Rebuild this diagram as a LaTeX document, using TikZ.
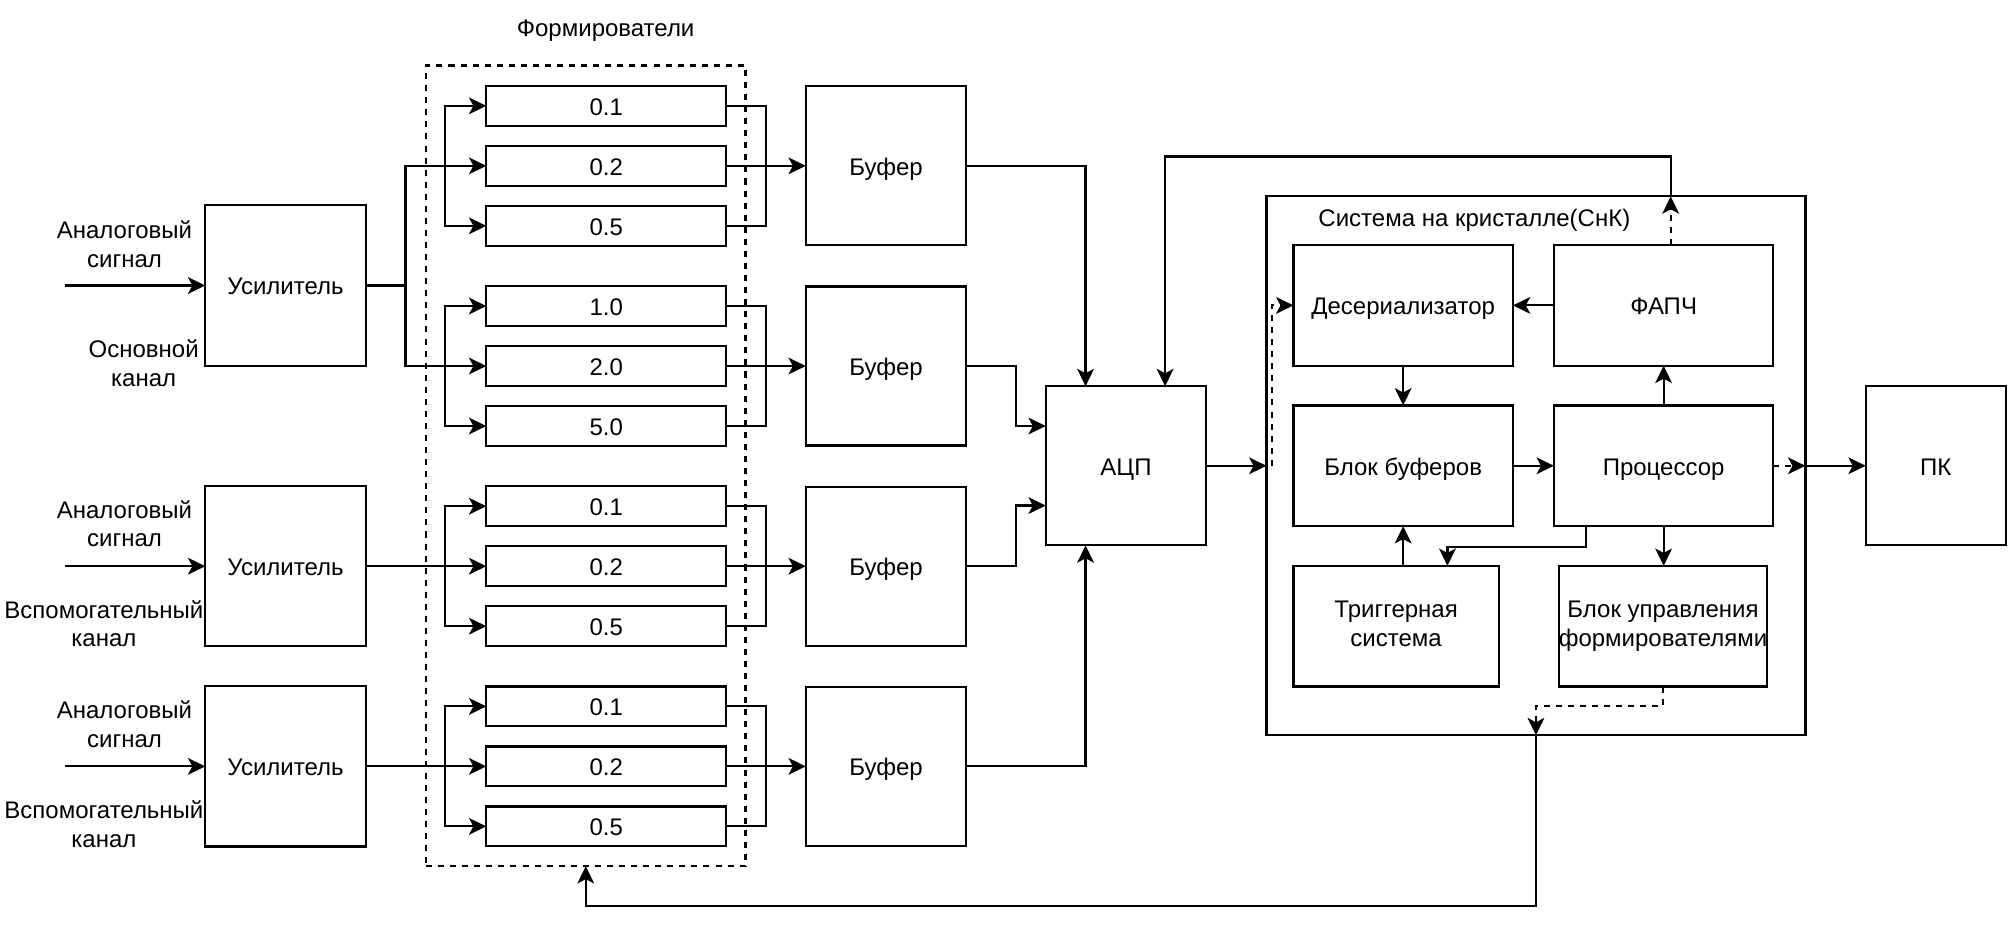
\documentclass[tikz,border=0pt]{standalone}
\usepackage{fontspec}
\setmainfont{Liberation Sans}
\usetikzlibrary{arrows.meta}
\newcommand\mystrut{\rule[-0.215em]{0pt}{1.2em}}
\begin{document}
\begin{tikzpicture}[x=1pt,y=-1pt,line width=1.7pt,
  every node/.style={font=\fontsize{18.7}{22.44}\selectfont, inner sep=0pt, outer sep=0pt, execute at begin node=\mystrut},
  lbl/.style={align=center},
  blk/.style={draw, minimum width=125pt, minimum height=124pt},
  shp/.style={draw, minimum width=187pt, minimum height=31pt},
  inr/.style={draw, minimum width=171pt, minimum height=94pt, align=center},
  arr/.style={-{Stealth[length=13.5pt,width=13pt,inset=3.4pt]}},
  dsh/.style={dash pattern=on 4.7pt off 4.7pt}]
\useasboundingbox (0,0) rectangle (1568,725);

% title and dashed group
\node[lbl] (title) at (472,21) {Формирователи};
\node[draw, dsh, minimum width=249pt, minimum height=624pt] (shapers) at (456.5,363) {};

% amplifiers
\node[blk, minimum height=125pt] (amp1) at (222.5,222.5) {Усилитель};
\node[blk, minimum height=125pt] (amp2) at (222.5,441.25) {Усилитель};
\node[blk, minimum height=125pt] (amp3) at (222.5,597.25) {Усилитель};

\coordinate (in1) at (51,222.5);
\coordinate (in2) at (51,441.25);
\coordinate (in3) at (51,597.25);
\draw[arr] (in1) -- (amp1.west);
\draw[arr] (in2) -- (amp2.west);
\draw[arr] (in3) -- (amp3.west);

\node[lbl] (l1a) at (97,192) {Аналоговый\\\mystrut сигнал};
\node[lbl] (l1b) at (112,285) {Основной\\\mystrut канал};
\node[lbl] (l2a) at (97,410) {Аналоговый\\\mystrut сигнал};
\node[lbl] (l2b) at (81,488) {Вспомогательный\\\mystrut канал};
\node[lbl] (l3a) at (97,566) {Аналоговый\\\mystrut сигнал};
\node[lbl] (l3b) at (81,644) {Вспомогательный\\\mystrut канал};

% shapers and buffers
\foreach \g/\yy/\a/\b/\c in {1/82.5/0.1/0.2/0.5, 2/238.5/1.0/2.0/5.0, 3/394.5/0.1/0.2/0.5, 4/550.5/0.1/0.2/0.5}{
  \node[shp] (s\g-a) at (472.5,\yy) {\a};
  \node[shp] (s\g-b) at (472.5,\yy+46.75) {\b};
  \node[shp] (s\g-c) at (472.5,\yy+93.5) {\c};
  \node[blk] (buf\g) at (690.5,\yy+46.75) {Буфер};
  \draw[arr] ([xshift=-32pt]s\g-b.west) |- (s\g-a.west);
  \draw[arr] ([xshift=-32pt]s\g-b.west) |- (s\g-c.west);
  \draw (s\g-a.east) -| ([xshift=31pt]s\g-b.east);
  \draw (s\g-c.east) -| ([xshift=31pt]s\g-b.east);
  \draw[arr] (s\g-b.east) -- (buf\g.west);
}

% amplifier outputs
\coordinate (j1) at ([xshift=31pt]amp1.east);
\draw (amp1.east) -- (j1);
\draw[arr] (j1) |- (s1-b.west);
\draw[arr] (j1) |- (s2-b.west);
\draw[arr] (amp2.east) -- (s3-b.west);
\draw[arr] (amp3.east) -- (s4-b.west);

% ADC
\node[blk] (adc) at (877.5,363) {АЦП};
\draw[arr] (buf1.east) -| ([xshift=31pt]adc.north west);
\draw[arr] (buf2.east) -- ++(39,0) |- ([yshift=-31pt]adc.north west);
\draw[arr] (buf3.east) -- ++(39,0) |- ([yshift=-93pt]adc.north west);
\draw[arr] (buf4.east) -| ([xshift=31pt]adc.south west);

% SoC
\node[draw, minimum width=420pt, minimum height=420pt] (soc) at (1197,363) {};
\node[lbl] (soclbl) at (1149,169) {Система на кристалле(СнК)};
\node[inr] (deser) at (1093.5,238) {Десериализатор};
\node[inr] (fapch) at (1296.5,238) {ФАПЧ};
\node[inr] (bb) at (1093.5,363) {Блок буферов};
\node[inr] (proc) at (1296.5,363) {Процессор};
\node[inr, minimum width=160pt] (trig) at (1088,488) {Триггерная\\\mystrut система};
\node[inr, minimum width=160pt] (ctrl) at (1296,488) {Блок управления\\\mystrut формирователями};
\node[blk, minimum width=109pt] (pk) at (1508.5,363) {ПК};

\draw[arr] (fapch.west) -- (deser.east);
\draw[arr] (deser.south) -- (bb.north);
\draw[arr] (bb.east) -- (proc.west);
\draw[arr] (proc.north) -- (fapch.south);
\draw[arr] (proc.south) -- (ctrl.north -| proc.south);
\draw[arr] (bb.south |- trig.north) -- (bb.south);
\draw[arr] ([xshift=25pt]proc.south west) -- ++(0,16) -| ([xshift=120pt]trig.north west);

% ADC -> SoC
\coordinate (socin) at (adc.east -| soc.west);
\draw[arr] (adc.east) -- (socin);
\draw[dsh, arr] ([xshift=4pt]socin) |- (deser.west);

% Processor -> PK
\coordinate (socout) at (proc.east -| soc.east);
\draw[dsh, arr] (proc.east) -- (socout);
\draw[arr] (socout) -- (pk.west);

% FAPCh -> ADC
\coordinate (ftop) at ([xshift=5.5pt]fapch.north |- soc.north);
\draw[dsh, arr] ([xshift=5.5pt]fapch.north) -- (ftop);
\draw[arr] (ftop) -- ++(0,-31) -| ([xshift=93pt]adc.north west);

% control -> shapers
\draw[dsh, arr] (ctrl.south) -- ++(0,15) -| (soc.south);
\draw[arr] (soc.south) -- ++(0,133) -| (shapers.south);
\end{tikzpicture}
\end{document}
